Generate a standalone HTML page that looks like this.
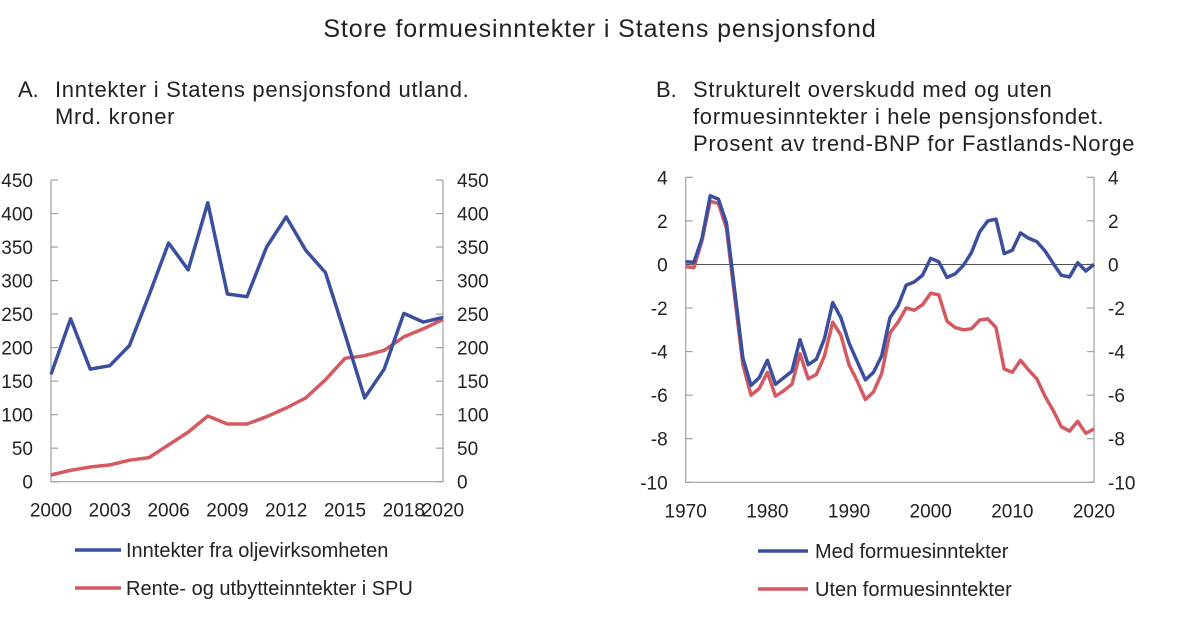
<!DOCTYPE html>
<html><head><meta charset="utf-8"><style>
body{margin:0;background:#fff;width:1200px;height:618px;overflow:hidden;font-family:"Liberation Sans",sans-serif;color:#222}
svg text{font-family:"Liberation Sans",sans-serif;fill:#222}
</style></head><body>
<svg id="c" width="1200" height="618" xmlns="http://www.w3.org/2000/svg">
<text x="600" y="37" font-size="25" letter-spacing="0.9" text-anchor="middle">Store formuesinntekter i Statens pensjonsfond</text>
<text x="18" y="97" font-size="22">A.</text>
<text x="55" y="97" font-size="22" letter-spacing="0.7">Inntekter i Statens pensjonsfond utland.</text>
<text x="55" y="124" font-size="22" letter-spacing="0.7">Mrd. kroner</text>
<text x="656" y="97" font-size="22">B.</text>
<text x="693" y="97" font-size="22" letter-spacing="0.7">Strukturelt overskudd med og uten</text>
<text x="693" y="124" font-size="22" letter-spacing="0.7">formuesinntekter i hele pensjonsfondet.</text>
<text x="693" y="151" font-size="22" letter-spacing="0.7">Prosent av trend-BNP for Fastlands-Norge</text>
<g id="pa"></g>
<g id="pb"></g>
<g>
<line x1="75" y1="550" x2="121" y2="550" stroke="#3b4f9e" stroke-width="3.5"/>
<text x="126" y="557" font-size="20">Inntekter fra oljevirksomheten</text>
<line x1="75" y1="588" x2="121" y2="588" stroke="#d25a60" stroke-width="3.5"/>
<text x="126" y="595" font-size="20">Rente- og utbytteinntekter i SPU</text>
</g>
<g>
<line x1="758" y1="551" x2="808" y2="551" stroke="#3b4f9e" stroke-width="3.5"/>
<text x="815" y="558" font-size="20">Med formuesinntekter</text>
<line x1="758" y1="589" x2="808" y2="589" stroke="#d25a60" stroke-width="3.5"/>
<text x="815" y="596" font-size="20">Uten formuesinntekter</text>
</g>
</svg>
<script>
const yearsA = [2000,2001,2002,2003,2004,2005,2006,2007,2008,2009,2010,2011,2012,2013,2014,2015,2016,2017,2018,2019,2020];
const oljeA = [160,243,168,173,203,278,356,316,416,280,276,350,395,345,312,220,125,168,251,238,245];
const renteA = [10,17,22,25,32,36,55,74,98,86,86,97,110,125,152,184,188,196,216,228,242];
const yTicksA = [0,50,100,150,200,250,300,350,400,450];
const xTicksA = [2000,2003,2006,2009,2012,2015,2018,2020];

const yearsB = [];
for (let y = 1970; y <= 2020; y++) yearsB.push(y);
const medB = [0.12,0.1,1.2,3.15,3.0,1.9,-1.2,-4.3,-5.55,-5.2,-4.4,-5.5,-5.2,-4.9,-3.45,-4.6,-4.35,-3.4,-1.75,-2.45,-3.6,-4.45,-5.3,-4.95,-4.2,-2.45,-1.9,-0.95,-0.8,-0.5,0.28,0.12,-0.6,-0.43,-0.05,0.55,1.5,2.0,2.08,0.5,0.65,1.45,1.2,1.05,0.62,0.05,-0.5,-0.57,0.08,-0.3,0.0];
const utenB = [-0.1,-0.15,1.1,2.9,2.8,1.65,-1.5,-4.6,-6.0,-5.7,-4.95,-6.05,-5.8,-5.5,-4.1,-5.25,-5.05,-4.2,-2.65,-3.25,-4.6,-5.35,-6.2,-5.85,-5.0,-3.15,-2.65,-2.0,-2.1,-1.85,-1.32,-1.4,-2.6,-2.9,-3.0,-2.95,-2.55,-2.5,-2.9,-4.8,-4.95,-4.4,-4.85,-5.25,-6.05,-6.7,-7.45,-7.65,-7.2,-7.75,-7.55];
const yTicksB = [-10,-8,-6,-4,-2,0,2,4];
const xTicksB = [1970,1980,1990,2000,2010,2020];

const NS = "http://www.w3.org/2000/svg";
function mk(parent, tag, attrs){const e=document.createElementNS(NS,tag);for(const k in attrs)e.setAttribute(k,attrs[k]);parent.appendChild(e);return e;}

function panel(g, cfg){
  const {x0,x1,y0,y1,xmin,xmax,ymin,ymax,xt,yt,series,zero,name}=cfg;
  const sx=v=>x0+(v-xmin)/(xmax-xmin)*(x1-x0);
  const sy=v=>y0-(v-ymin)/(ymax-ymin)*(y0-y1);
  const frame=mk(g,'path',{d:`M${x0},${y1}V${y0}H${x1}V${y1}`,fill:'none',stroke:'#a0a0a0','stroke-width':1.2});
  
  
  yt.forEach(v=>{
    const y=sy(v);
    const t1=mk(g,'line',{x1:x0,y1:y,x2:x0+7,y2:y,stroke:'#a0a0a0','stroke-width':1.2});
    
    
    const t2=mk(g,'line',{x1:x1-7,y1:y,x2:x1,y2:y,stroke:'#a0a0a0','stroke-width':1.2});
    
    
    const l=mk(g,'text',{x:x0-18,y:y+7,'font-size':19,'text-anchor':'end'});l.textContent=v;
    
    
    const r=mk(g,'text',{x:x1+14,y:y+7,'font-size':19});r.textContent=v;
    
    
  });
  xt.forEach(v=>{
    const l=mk(g,'text',{x:sx(v),y:y0+35,'font-size':19,'text-anchor':'middle'});l.textContent=v;
    
    
  });
  if(zero){
    const z=mk(g,'line',{x1:x0,y1:sy(0),x2:x1,y2:sy(0),stroke:'#555','stroke-width':1});
    
    
  }
  series.forEach(s=>{
    const d=s.xs.map((x,i)=>(i?'L':'M')+sx(x).toFixed(1)+','+sy(s.ys[i]).toFixed(1)).join('');
    const p=mk(g,'path',{d:d,fill:'none',stroke:s.color,'stroke-width':3.5,'stroke-linejoin':'round'});
    
    
  });
}
panel(document.getElementById('pa'),{x0:51,x1:443,y0:481.7,y1:180,xmin:2000,xmax:2020,ymin:0,ymax:450,xt:xTicksA,yt:yTicksA,name:'panel-a',
  series:[{xs:yearsA,ys:renteA,color:'#d25a60',name:'rente-line'},{xs:yearsA,ys:oljeA,color:'#3b4f9e',name:'olje-line'}]});
panel(document.getElementById('pb'),{x0:685.7,x1:1094,y0:482.3,y1:177.3,xmin:1970,xmax:2020,ymin:-10,ymax:4,xt:xTicksB,yt:yTicksB,zero:true,name:'panel-b',
  series:[{xs:yearsB,ys:utenB,color:'#d25a60',name:'uten-line'},{xs:yearsB,ys:medB,color:'#3b4f9e',name:'med-line'}]});
</script>
</body></html>
